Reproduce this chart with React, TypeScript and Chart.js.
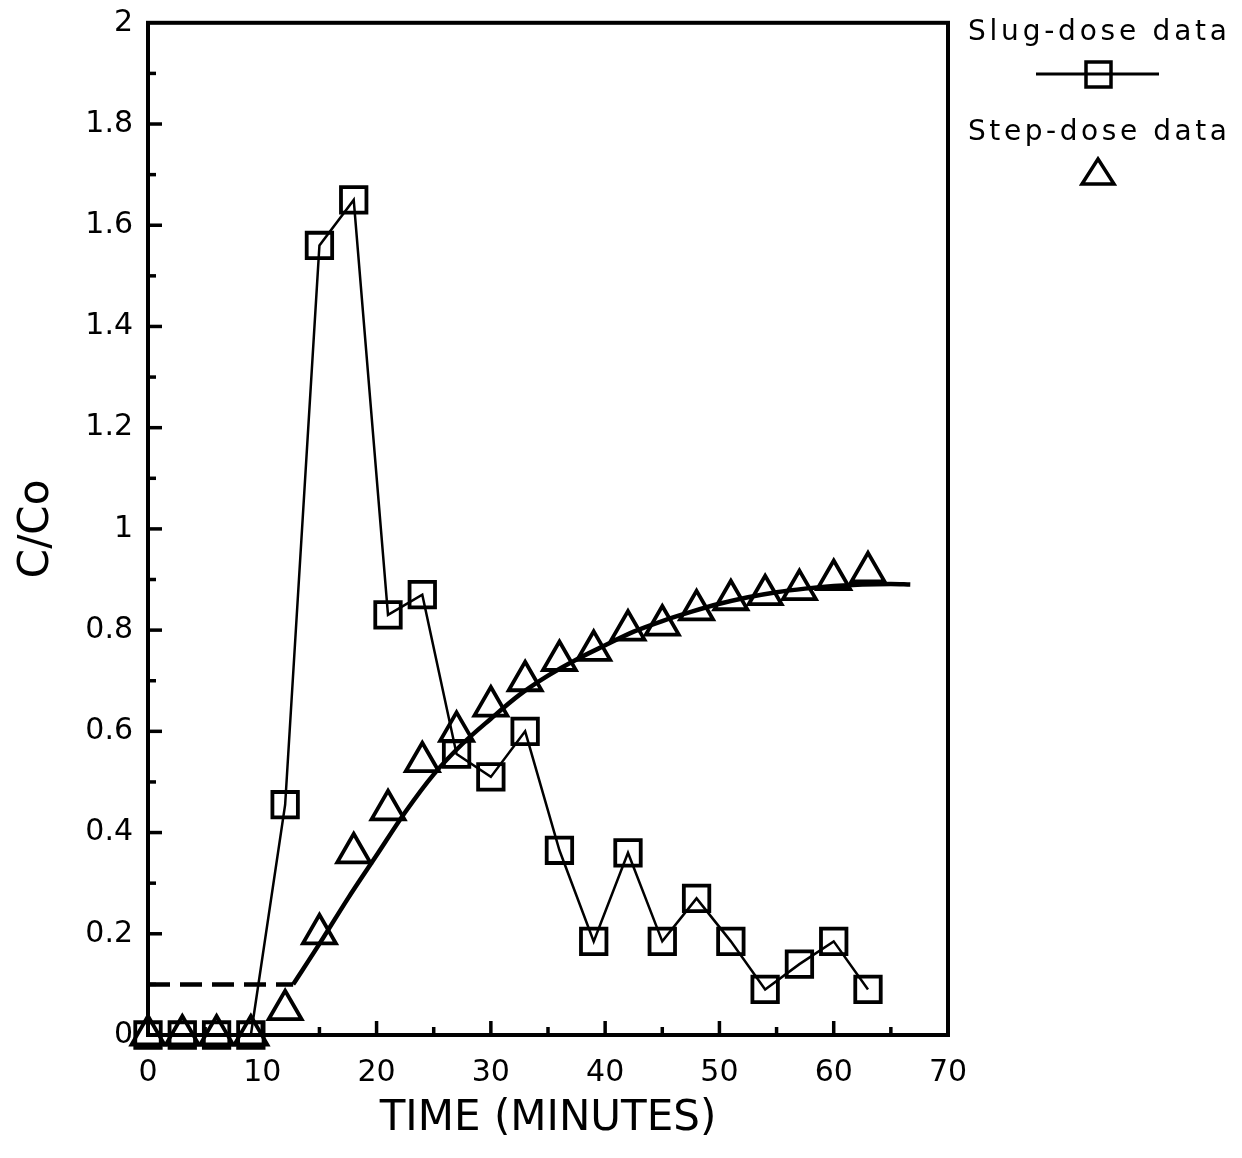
import React, { useEffect, useRef } from 'react';
import { Chart, registerables } from 'chart.js';

Chart.register(...registerables);

// ---- data ----
const slugTimes = [0, 3, 6, 9, 12, 15, 18, 21, 24, 27, 30, 33, 36, 39, 42, 45, 48, 51, 54, 57, 60, 63];
const slugValues = [0, 0, 0, 0, 0.455, 1.56, 1.65, 0.83, 0.87, 0.555, 0.51, 0.6, 0.365, 0.185, 0.36, 0.185, 0.27, 0.185, 0.09, 0.14, 0.185, 0.09];

const stepTimes = [0, 3, 6, 9, 12, 15, 18, 21, 24, 27, 30, 33, 36, 39, 42, 45, 48, 51, 54, 57, 60, 63];
const stepValues = [0, 0, 0, 0, 0.05, 0.2, 0.36, 0.445, 0.54, 0.6, 0.65, 0.7, 0.74, 0.76, 0.8, 0.81, 0.84, 0.86, 0.87, 0.88, 0.9, 0.915];

const fitTimes = [12.7, 15, 17.5, 20, 22.5, 25, 27.5, 30, 32.5, 35, 37.5, 40, 42.5, 45, 47.5, 50, 52.5, 55, 57.5, 60, 62.5, 65, 66.7];
const fitValues = [0.1, 0.18, 0.27, 0.355, 0.44, 0.515, 0.575, 0.625, 0.672, 0.71, 0.742, 0.77, 0.797, 0.818, 0.836, 0.852, 0.865, 0.875, 0.882, 0.887, 0.89, 0.891, 0.89];

const baseTimes = [0, 12.7];
const baseValues = [0.1, 0.1];

const xTickValues = [0, 10, 20, 30, 40, 50, 60, 70];
const xMinorValues = [5, 15, 25, 35, 45, 55, 65];
const yTickValues = [0, 0.2, 0.4, 0.6, 0.8, 1, 1.2, 1.4, 1.6, 1.8, 2];
const yMinorValues = [0.1, 0.3, 0.5, 0.7, 0.9, 1.1, 1.3, 1.5, 1.7, 1.9];

const xTitle = 'TIME (MINUTES)';
const yTitle = 'C/Co';
const slugLabel = 'Slug-dose data';
const stepLabel = 'Step-dose data';

const FONT = '"DejaVu Sans", "Liberation Sans", sans-serif';

const toPoints = (xs: number[], ys: number[]) => xs.map((x, i) => ({ x, y: ys[i] }));

const frameTicksPlugin = {
  id: 'frameTicks',
  beforeDatasetsDraw(chart: any) {
    const { ctx, chartArea: a, scales } = chart;
    ctx.save();
    ctx.strokeStyle = '#000';
    ctx.lineWidth = 4;
    ctx.strokeRect(a.left, a.top, a.right - a.left, a.bottom - a.top);
    ctx.lineWidth = 3.5;
    ctx.lineCap = 'butt';
    const ys: [number, number][] = [
      ...yTickValues.map((v) => [v, 14] as [number, number]),
      ...yMinorValues.map((v) => [v, 8] as [number, number]),
    ];
    ys.forEach(([v, len]) => {
      if (v <= 0 || v >= 2) return;
      const y = scales.y.getPixelForValue(v);
      ctx.beginPath();
      ctx.moveTo(a.left, y);
      ctx.lineTo(a.left + len, y);
      ctx.stroke();
    });
    const xs: [number, number][] = [
      ...xTickValues.map((v) => [v, 14] as [number, number]),
      ...xMinorValues.map((v) => [v, 8] as [number, number]),
    ];
    xs.forEach(([v, len]) => {
      if (v <= 0 || v >= 70) return;
      const x = scales.x.getPixelForValue(v);
      ctx.beginPath();
      ctx.moveTo(x, a.bottom);
      ctx.lineTo(x, a.bottom - len);
      ctx.stroke();
    });
    ctx.restore();
  },
};

const legendPlugin = {
  id: 'customLegend',
  afterDraw(chart: any) {
    const { ctx } = chart;
    ctx.save();
    ctx.fillStyle = '#000';
    ctx.strokeStyle = '#000';
    ctx.font = `28px ${FONT}`;
    ctx.textBaseline = 'middle';
    ctx.textAlign = 'left';
    const fitText = (t: string, x: number, y: number, w: number) => {
      (ctx as any).letterSpacing = '0px';
      const w0 = ctx.measureText(t).width;
      const sp = Math.max(0, (w - w0) / (t.length - 1));
      (ctx as any).letterSpacing = `${sp}px`;
      ctx.fillText(t, x, y);
      (ctx as any).letterSpacing = '0px';
    };
    fitText(slugLabel, 968, 33, 259);
    ctx.lineWidth = 3;
    ctx.beginPath();
    ctx.moveTo(1036, 74);
    ctx.lineTo(1159, 74);
    ctx.stroke();
    ctx.lineWidth = 3.5;
    ctx.strokeRect(1086, 62, 25, 25);
    fitText(stepLabel, 968, 133, 259);
    ctx.beginPath();
    ctx.moveTo(1098, 159);
    ctx.lineTo(1114, 184);
    ctx.lineTo(1082, 184);
    ctx.closePath();
    ctx.stroke();
    ctx.restore();
  },
};

export default function App() {
  const ref = useRef<HTMLCanvasElement | null>(null);
  useEffect(() => {
    if (!ref.current) return;
    const chart = new Chart(ref.current, {
      type: 'scatter',
      data: {
        datasets: [
          {
            data: toPoints(baseTimes, baseValues),
            showLine: true,
            borderColor: '#000',
            borderWidth: 4.5,
            borderDash: [22, 10],
            pointRadius: 0,
            clip: false as any,
          },
          {
            data: toPoints(fitTimes, fitValues),
            showLine: true,
            borderColor: '#000',
            borderWidth: 4.5,
            cubicInterpolationMode: 'monotone',
            pointRadius: 0,
            clip: false as any,
          },
          {
            data: toPoints(slugTimes, slugValues),
            showLine: true,
            borderColor: '#000',
            borderWidth: 2.5,
            pointStyle: 'rect',
            pointRadius: 18,
            pointBorderWidth: 3.8,
            pointBorderColor: '#000',
            pointBackgroundColor: 'rgba(0,0,0,0)',
            clip: false as any,
          },
          {
            data: toPoints(stepTimes, stepValues),
            showLine: false,
            pointStyle: 'triangle',
            pointRadius: 19,
            pointBorderWidth: 3.8,
            pointBorderColor: '#000',
            pointBackgroundColor: 'rgba(0,0,0,0)',
            clip: false as any,
          },
        ],
      },
      options: {
        animation: false,
        responsive: false,
        devicePixelRatio: 1,
        layout: { padding: { left: 0, right: 294, top: 22, bottom: 0 } },
        plugins: {
          legend: { display: false },
          tooltip: { enabled: false },
        },
        scales: {
          x: {
            type: 'linear',
            min: 0,
            max: 70,
            afterBuildTicks: (s: any) => {
              s.ticks = xTickValues.map((v) => ({ value: v }));
            },
            afterFit: (s: any) => {
              s.height = 123;
              s.paddingLeft = 0;
              s.paddingRight = 0;
            },
            grid: { display: false, drawTicks: false },
            border: { display: false },
            ticks: {
              color: '#000',
              font: { family: FONT, size: 30 },
              padding: 20,
              maxRotation: 0,
              callback: (v: any) => String(v),
            },
            title: {
              display: true,
              text: xTitle,
              color: '#000',
              font: { family: FONT, size: 42 },
              padding: { top: 0, bottom: 14 },
            },
          },
          y: {
            type: 'linear',
            min: 0,
            max: 2,
            afterBuildTicks: (s: any) => {
              s.ticks = yTickValues.map((v) => ({ value: v }));
            },
            afterFit: (s: any) => {
              s.width = 148;
              s.paddingTop = 0;
              s.paddingBottom = 0;
            },
            grid: { display: false, drawTicks: false },
            border: { display: false },
            ticks: {
              color: '#000',
              font: { family: FONT, size: 30 },
              padding: 15,
              callback: (v: any) => String(Math.round(v * 10) / 10),
            },
            title: {
              display: true,
              text: yTitle,
              color: '#000',
              font: { family: FONT, size: 42 },
              padding: { top: 12, bottom: 0 },
            },
          },
        },
      },
      plugins: [frameTicksPlugin, legendPlugin],
    } as any);
    return () => chart.destroy();
  }, []);
  return (
    <div style={{ position: 'absolute', left: 0, top: 0, width: 1242, height: 1158, background: '#fff' }}>
      <canvas ref={ref} width={1242} height={1158} style={{ width: 1242, height: 1158, display: 'block' }} />
    </div>
  );
}
